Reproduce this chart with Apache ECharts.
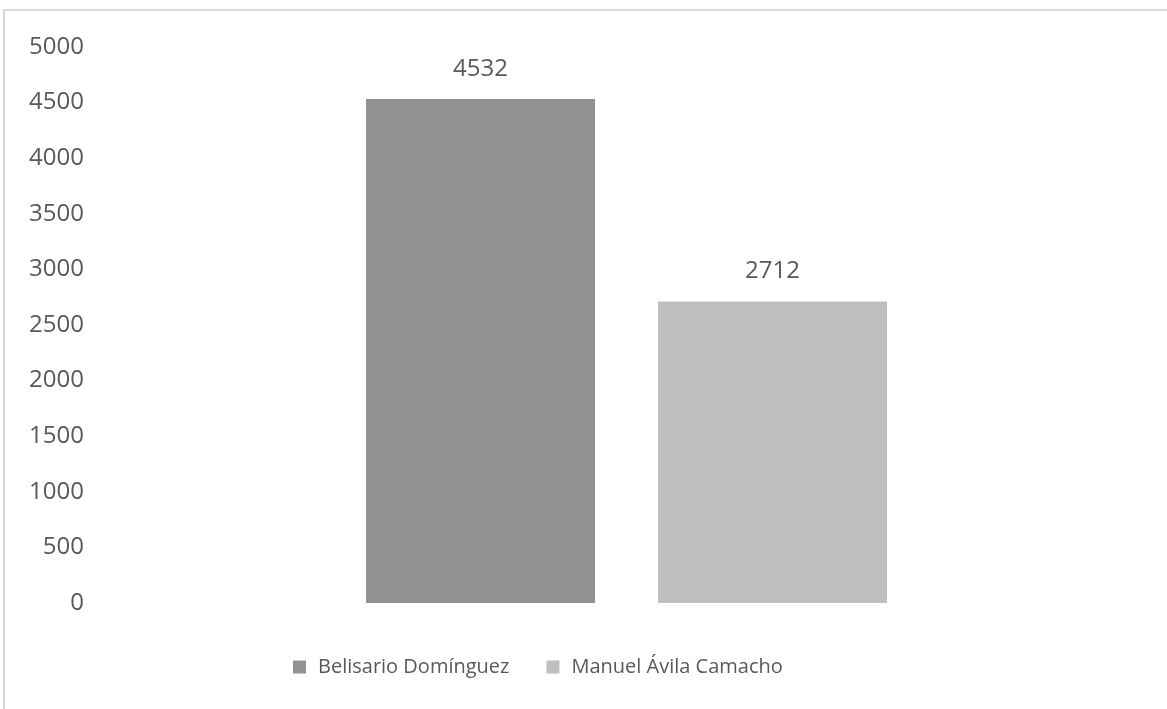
<!DOCTYPE html>
<html>
<head>
<meta charset="utf-8">
<script src="https://cdn.jsdelivr.net/npm/echarts@6/dist/echarts.min.js"></script>
<style>
  html, body { margin: 0; padding: 0; background: #ffffff; }
  #chart { width: 1167px; height: 709px; }
</style>
</head>
<body>
<div id="chart"></div>
<script>
// Population per locality
const categories = [''];
const seriesNames = ['Belisario Domínguez', 'Manuel Ávila Camacho'];
const belisarioValues = [4532];
const manuelValues = [2712];
const yTicks = { min: 0, max: 5000, interval: 500 };

const textColor = '#595959';
const fontFamily = '"Open Sans", "Noto Sans", sans-serif';

const chart = echarts.init(document.getElementById('chart'), null, { renderer: 'canvas' });

const labelStyle = {
  show: true,
  position: 'top',
  distance: 18,
  color: textColor,
  fontFamily: fontFamily,
  fontSize: 24
};

chart.setOption({
  animation: false,
  backgroundColor: '#ffffff',
  graphic: [
    // frame edges along the top and left
    { type: 'line', shape: { x1: 3, y1: 10, x2: 1167, y2: 10 }, style: { stroke: '#d9d9d9', lineWidth: 2 } },
    { type: 'line', shape: { x1: 4, y1: 10, x2: 4, y2: 709 }, style: { stroke: '#d9d9d9', lineWidth: 2 } }
  ],
  grid: { left: 100, right: 14, top: 47, bottom: 106, containLabel: false },
  legend: {
    top: 652,
    left: 288,
    itemWidth: 13,
    itemHeight: 13,
    itemGap: 37,
    icon: 'rect',
    textStyle: { color: textColor, fontFamily: fontFamily, fontSize: 20, padding: [0, 0, 0, 7] },
    data: seriesNames
  },
  xAxis: {
    type: 'category',
    data: categories,
    axisLine: { show: false },
    axisTick: { show: false },
    axisLabel: { show: false }
  },
  yAxis: {
    type: 'value',
    min: yTicks.min,
    max: yTicks.max,
    interval: yTicks.interval,
    axisLine: { show: false },
    axisTick: { show: false },
    splitLine: { show: false },
    axisLabel: {
      color: textColor,
      fontFamily: fontFamily,
      fontSize: 24,
      margin: 16,
      formatter: (v) => String(v)
    }
  },
  series: [
    {
      name: seriesNames[0],
      type: 'bar',
      data: belisarioValues,
      barWidth: 229,
      barGap: '27.5%',
      itemStyle: { color: '#929292' },
      label: labelStyle
    },
    {
      name: seriesNames[1],
      type: 'bar',
      data: manuelValues,
      barWidth: 229,
      barGap: '27.5%',
      itemStyle: { color: '#bfbfbf' },
      label: labelStyle
    }
  ]
});
</script>
</body>
</html>
